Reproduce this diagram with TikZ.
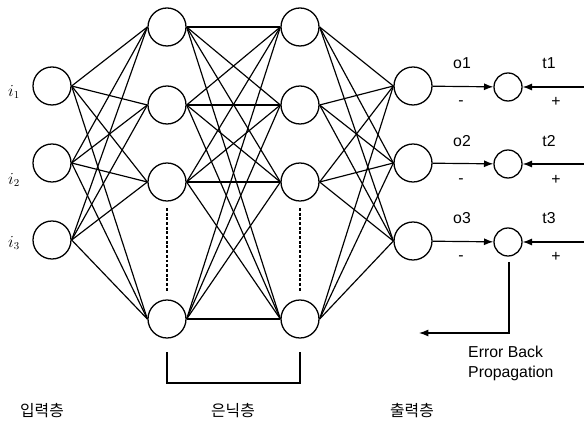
\documentclass[tikz,border=0pt]{standalone}
\usepackage{fontspec}
\setmainfont{Liberation Sans}
\newfontfamily\krfont{Noto Sans CJK KR}
\usetikzlibrary{arrows.meta}
\tikzset{
  neuron/.style={draw, circle, line width=1.1pt, minimum size=1.14cm, inner sep=0pt},
  errnode/.style={draw, circle, line width=1.1pt, minimum size=0.84cm, inner sep=0pt},
  link/.style={draw, line width=1pt},
  tip/.style={-{Latex[length=8pt,width=6pt]}},
  lab/.style={font=\fontsize{13.5}{16}\selectfont, inner sep=0pt},
  krlab/.style={font=\krfont\fontsize{13.5}{16}\selectfont, inner sep=0pt},
}
\begin{document}
\begin{tikzpicture}[x=0.03cm, y=-0.03cm]
\useasboundingbox (0,0) rectangle (584,427);

% input layer
\node[neuron] (i1) at (52,86) {};
\node[neuron] (i2) at (52,163) {};
\node[neuron] (i3) at (52,240) {};
\node[lab] (li1) at (14,92) {$i_1$};
\node[lab] (li2) at (14,180) {$i_2$};
\node[lab] (li3) at (14,243) {$i_3$};

% hidden layers
\node[neuron] (a1) at (167,27) {};
\node[neuron] (a2) at (167,105) {};
\node[neuron] (a3) at (167,182) {};
\node[neuron] (a4) at (167,319) {};
\node[neuron] (b1) at (300,27) {};
\node[neuron] (b2) at (300,105) {};
\node[neuron] (b3) at (300,182) {};
\node[neuron] (b4) at (300,319) {};

% output layer
\node[neuron] (o1) at (413,86) {};
\node[neuron] (o2) at (413,163) {};
\node[neuron] (o3) at (413,241) {};

% error nodes
\node[errnode] (e1) at (508,87) {};
\node[errnode] (e2) at (508,164) {};
\node[errnode] (e3) at (508,242) {};

\foreach \i in {1,2,3}
  \foreach \j in {1,2,3,4}
    \path[link] (i\i.east) -- (a\j.west);
\foreach \i in {1,2,3,4}
  \foreach \j in {1,2,3,4}
    \path[link] (a\i.east) -- (b\j.west);
\foreach \i in {1,2,3,4}
  \foreach \j in {1,2,3}
    \path[link] (b\i.east) -- (o\j.west);

\draw[line width=0.9pt, dash pattern=on 2.5pt off 1.5pt] (167,208) -- (167,292);
\draw[line width=0.9pt, dash pattern=on 2.5pt off 1.5pt] (300,208) -- (300,292);

% errors
\foreach \k/\y in {1/87,2/164,3/242} {
  \coordinate (t\k) at (584,\y);
  \path[link, tip] (o\k) -- (e\k);
  \path[link, tip] (t\k) -- (e\k);
}
\node[lab] (lo1) at (462,63) {o1};
\node[lab] (lt1) at (549,63) {t1};
\node[lab] (lo2) at (462,141) {o2};
\node[lab] (lt2) at (549,141) {t2};
\node[lab] (lo3) at (462,218) {o3};
\node[lab] (lt3) at (549,218) {t3};
\node[lab] (m1) at (461,103) {-};
\node[lab] (p1) at (556,102) {+};
\node[lab] (m2) at (461,181) {-};
\node[lab] (p2) at (556,180) {+};
\node[lab] (m3) at (461,258) {-};
\node[lab] (p3) at (556,257) {+};

% back propagation
\coordinate (bp0) at (509,262);
\coordinate (bp1) at (509,333);
\coordinate (bp2) at (419,333);
\path[link, tip] (bp0) -- (bp1) -- (bp2);
\node[lab, align=left, anchor=north west] (ebp) at (468,346) {Error Back\\[1pt]Propagation};

% bracket
\coordinate (br1) at (167,352);
\coordinate (br2) at (300,352);
\draw[line width=1pt] (br1) -- (167,383) -- (300,383) -- (br2);

% layer names
\node[krlab] (lin) at (42,411) {입력층};
\node[krlab] (lhid) at (233,411) {은닉층};
\node[krlab] (lout) at (412,411) {출력층};
\end{tikzpicture}
\end{document}
